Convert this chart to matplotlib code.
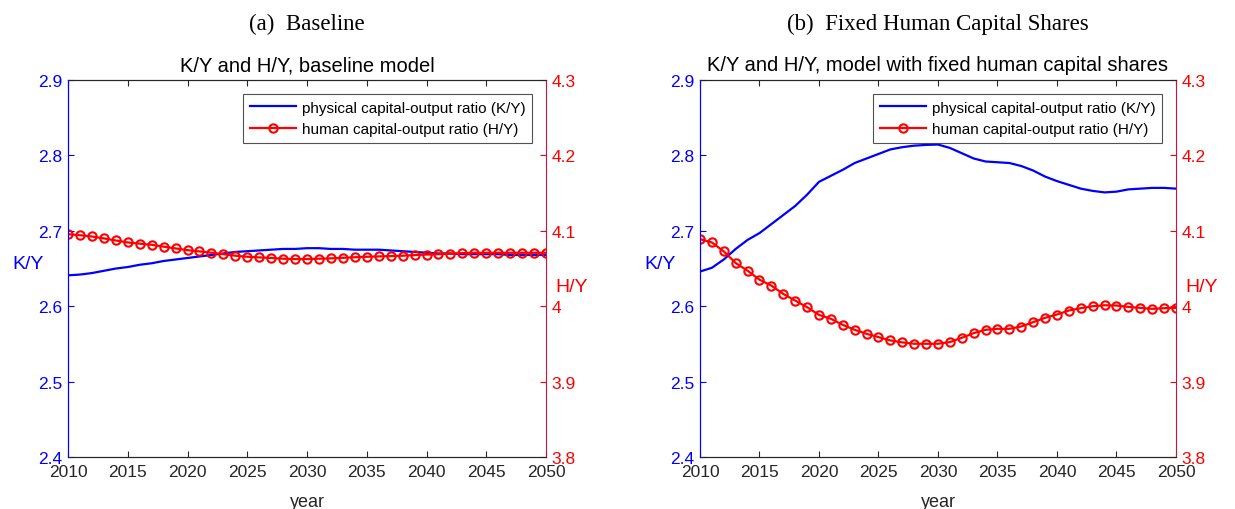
import matplotlib

matplotlib.use("Agg")
import matplotlib.pyplot as plt

years = list(range(2010, 2051))

# panel (a): baseline model
ky_base = [2.641, 2.642, 2.644, 2.647, 2.650, 2.652, 2.655, 2.657, 2.660, 2.662,
           2.664, 2.666, 2.668, 2.670, 2.672, 2.673, 2.674, 2.675, 2.676, 2.676,
           2.677, 2.677, 2.676, 2.676, 2.675, 2.675, 2.675, 2.674, 2.673, 2.672,
           2.671, 2.670, 2.670, 2.669, 2.669, 2.669, 2.669, 2.668, 2.668, 2.668,
           2.668]
hy_base = [4.0956, 4.0942, 4.0925, 4.0900, 4.0872, 4.0846, 4.0830, 4.0815, 4.0790, 4.0767,
           4.0744, 4.0727, 4.0710, 4.0690, 4.0670, 4.0656, 4.0648, 4.0640, 4.0630, 4.0626,
           4.0626, 4.0630, 4.0635, 4.0642, 4.0650, 4.0656, 4.0661, 4.0665, 4.0670, 4.0678,
           4.0685, 4.0690, 4.0698, 4.0705, 4.0709, 4.0709, 4.0709, 4.0709, 4.0709, 4.0709,
           4.0709]

# panel (b): fixed human capital shares
ky_fixed = [2.646, 2.651, 2.662, 2.676, 2.688, 2.697, 2.709, 2.721, 2.733, 2.748,
            2.765, 2.773, 2.781, 2.790, 2.796, 2.802, 2.808, 2.811, 2.813, 2.814,
            2.8145, 2.810, 2.803, 2.796, 2.792, 2.791, 2.790, 2.786, 2.780, 2.772,
            2.766, 2.761, 2.756, 2.753, 2.751, 2.752, 2.755, 2.756, 2.757, 2.757,
            2.756]
hy_fixed = [4.0890, 4.0846, 4.0727, 4.0573, 4.0471, 4.0352, 4.0273, 4.0163, 4.0075, 3.9987,
            3.9885, 3.9833, 3.9753, 3.9687, 3.9634, 3.9590, 3.9546, 3.9520, 3.9502, 3.9502,
            3.9502, 3.9524, 3.9581, 3.9643, 3.9687, 3.9700, 3.9700, 3.9731, 3.9789, 3.9846,
            3.9890, 3.9943, 3.9974, 4.0000, 4.0013, 4.0009, 3.9991, 3.9978, 3.9965, 3.9974,
            3.9978]

captions = ["(a)  Baseline", "(b)  Fixed Human Capital Shares"]
titles = ["K/Y and H/Y, baseline model",
          "K/Y and H/Y, model with fixed human capital shares"]
ky_ticks = [2.4, 2.5, 2.6, 2.7, 2.8, 2.9]
hy_ticks = [3.8, 3.9, 4.0, 4.1, 4.2, 4.3]
hy_labels = ["3.8", "3.9", "4", "4.1", "4.2", "4.3"]
x_ticks = list(range(2010, 2051, 5))

plt.rcParams["font.family"] = ["Liberation Sans", "DejaVu Sans"]

fig = plt.figure(figsize=(12.35, 5.10), dpi=100)
positions = [[0.0551, 0.102, 0.3870, 0.739], [0.5668, 0.102, 0.3854, 0.739]]
grey = "#262626"

for pos, caption, title, ky, hy in zip(positions, captions, titles,
                                      [ky_base, ky_fixed], [hy_base, hy_fixed]):
    ax = fig.add_axes(pos)
    ax2 = ax.twinx()

    ax.plot(years, ky, color="blue", linewidth=1.6,
            label="physical capital-output ratio (K/Y)")
    ax2.plot(years, hy, color="red", linewidth=1.6, marker="o", markersize=6,
             markerfacecolor="none", markeredgewidth=1.5,
             label="human capital-output ratio (H/Y)")

    ax.set_xlim(2010, 2050)
    ax.set_ylim(2.4, 2.9)
    ax2.set_ylim(3.8, 4.3)
    ax.set_xticks(x_ticks)
    ax.set_yticks(ky_ticks)
    ax2.set_yticks(hy_ticks)
    ax2.set_yticklabels(hy_labels)

    ax.tick_params(axis="x", direction="in", top=True, colors=grey,
                   labelsize=12.5, length=4, pad=5)
    ax.tick_params(axis="y", direction="in", colors="blue", labelsize=12.5,
                   length=4, pad=4)
    ax2.tick_params(axis="y", direction="in", colors="red", labelsize=12.5,
                    length=4, pad=4)

    for side in ["top", "bottom"]:
        ax.spines[side].set_color(grey)
        ax2.spines[side].set_color(grey)
    ax.spines["left"].set_color("blue")
    ax2.spines["left"].set_color("blue")
    ax2.spines["right"].set_color("#d0103a")
    ax.spines["right"].set_visible(False)

    ax.set_xlabel("year", fontsize=13, color=grey, labelpad=10)
    ax.set_ylabel("K/Y", fontsize=14, color="blue", rotation=0,
                  ha="right", va="bottom")
    ax.yaxis.set_label_coords(-0.05, 0.49)
    ax2.set_ylabel("H/Y", fontsize=14, color="red", rotation=0,
                   ha="left", va="top")
    ax2.yaxis.set_label_coords(1.02, 0.475)

    ax.set_title(title, fontsize=14.5, color="black", pad=7)
    fig.text(pos[0] + pos[2] / 2, 0.953, caption, ha="center", va="center",
             fontsize=16.5, family=["Liberation Serif", "DejaVu Serif"])

    lines = ax.get_lines() + ax2.get_lines()
    leg = ax2.legend(lines, [l.get_label() for l in lines], loc="upper right",
                     fontsize=11, frameon=True, fancybox=False,
                     edgecolor=grey, borderaxespad=0.9, handlelength=3.0,
                     borderpad=0.45, labelspacing=0.5, handletextpad=0.4)
    leg.get_frame().set_linewidth(0.8)

fig.savefig("out.png", dpi=100)
